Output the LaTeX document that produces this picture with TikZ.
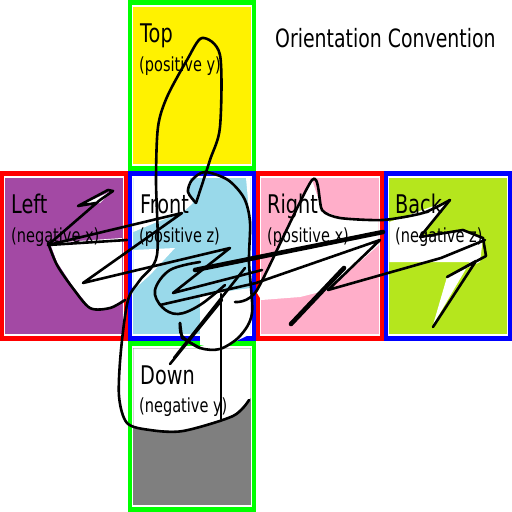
\documentclass[tikz,border=0pt]{standalone}
\usepackage{fontspec}
\setmainfont{DejaVu Sans}[FakeStretch=0.75]
\definecolor{bordgreen}{HTML}{00FF00}
\definecolor{bordred}{HTML}{FF0000}
\definecolor{bordblue}{HTML}{0000FF}
\definecolor{topyellow}{HTML}{FFF200}
\definecolor{leftpurple}{HTML}{A349A4}
\definecolor{frontblue}{HTML}{99D9EA}
\definecolor{rightpink}{HTML}{FFAEC9}
\definecolor{backlime}{HTML}{B5E61D}
\definecolor{downgray}{HTML}{7F7F7F}

% one face of the net: x, y, border colour, fill colour
\newcommand{\cubeface}[4]{%
    \fill[#3] (#1,#2) rectangle ++(128,170.67);
    \fill[white] (#1+4,#2+5) rectangle (#1+124,#2+165.67);
    \fill[#4] (#1+5.3,#2+7) rectangle (#1+122.7,#2+163.67);
}

\begin{document}
\begin{tikzpicture}[x=1pt,y=-1pt,line join=round,line cap=round]
    \tikzset{
        facename/.style={anchor=base west,inner sep=0pt,
            font=\fontsize{25.7}{30}\selectfont},
        facesub/.style={anchor=base west,inner sep=0pt,
            font=\fontsize{19.4}{22}\selectfont},
        scrib/.style={line width=2.6pt,black},
        scribthick/.style={line width=4.6pt,black},
        blank/.style={fill=white,draw=none}
    }
    \useasboundingbox (0,0) rectangle (512,512);

    \cubeface{128}{0}{bordgreen}{topyellow}
    \cubeface{0}{170.67}{bordred}{leftpurple}
    \cubeface{128}{170.67}{bordblue}{frontblue}
    \cubeface{256}{170.67}{bordred}{rightpink}
    \cubeface{384}{170.67}{bordblue}{backlime}
    \cubeface{128}{341.33}{bordgreen}{downgray}

    % white patches left by the scribble
    \path[blank] (50,243) -- (122,238) -- (122,300) -- (110,309) -- (90,308)
        -- (72,285) -- (57,262) -- cycle;
    \path[blank] (78,206) -- (112,191) -- (100,203) -- cycle;
    \path[blank] (133.3,178) -- (190,178) -- (188,192) -- (193,203) -- (182,213)
        -- (157,222) -- (133.3,232) -- cycle;
    \path[blank] (246,178) -- (250.7,178) -- (250.7,330) -- (249,260) -- (250,222) -- cycle;
    \path[blank] (200,295) -- (250.7,288) -- (250.7,334) -- (220,349) -- (200,345) -- cycle;
    \path[blank] (133.3,250) -- (175,248) -- (150,275) -- (133.3,290) -- cycle;
    \path[blank] (257,293) -- (312,180) -- (322,210) -- (340,218) -- (378.7,220)
        -- (378.7,245) -- (328,290) -- (300,297) -- (261.3,300) -- cycle;
    \path[blank] (389.3,222) -- (450,200) -- (420,237) -- (463,230) -- (483,238)
        -- (480,262) -- (447,277) -- (433,325) -- (470,262) -- (441,262)
        -- (389.3,262) -- cycle;
    \path[blank] (133.3,348.3) -- (250.7,348.3) -- (250.7,398) -- (233,416)
        -- (183,431) -- (150,430) -- (133.3,427) -- cycle;

    % labels
    \node (title) at (275,47.5) [anchor=base west,inner sep=0pt,
        font=\fontsize{25.2}{30}\selectfont] {Orientation Convention};
    \node[facename] (topname) at (140,42) {Top};
    \node[facesub] (topsub) at (139,71) {(positive y)};
    \node[facename] (leftname) at (11,213) {Left};
    \node[facesub] (leftsub) at (11,242) {(negative x)};
    \node[facename] (frontname) at (140,213) {Front};
    \node[facesub] (frontsub) at (139,242) {(positive z)};
    \node[facename] (rightname) at (267,213) {Right};
    \node[facesub] (rightsub) at (267,242) {(positive x)};
    \node[facename] (backname) at (395,213) {Back};
    \node[facesub] (backsub) at (395,242) {(negative z)};
    \node[facename] (downname) at (140,384) {Down};
    \node[facesub] (downsub) at (139,412) {(negative y)};

    % the scribble
    \draw[scrib] plot[smooth,tension=0.5] coordinates {(196,203) (210,160)
        (220,127) (220,55) (202,38) (187,60) (167,97) (158,127) (156,180)
        (157,255) (140,280) (128,300) (121,350) (119,396) (127,423) (150,430)
        (183,431) (233,416) (249,400)};
    \draw[scrib] plot[smooth,tension=0.5] coordinates {(196,203) (188,192)
        (192,180) (205,172) (228,180) (244,198) (250,222) (249,262) (252,313)
        (240,336) (220,349) (200,348) (182,336) (180,323)};
    \draw[scrib] (48,245) -- (100,200) -- (113,191) -- (108,190) -- (78,206)
        -- (96,203);
    \draw[scrib] plot[smooth,tension=0.5] coordinates {(48,243) (57,265)
        (72,287) (90,308) (110,308) (125,300)};
    \draw[scrib] (48,245) -- (127,240);
    \draw[scrib] (48,245) -- (182,213) -- (83,283) -- (230,248) -- (173,293)
        -- (262,270);
    \draw[scrib] plot[smooth,tension=0.6] coordinates {(200,262) (170,270)
        (155,290) (162,307) (178,314) (200,305) (225,285)};
    \draw[scrib] plot[smooth,tension=0.4] coordinates {(235,302) (257,290)
        (312,180) (322,210) (340,218) (383,220) (423,213) (450,200)};
    \draw[scrib] (450,200) -- (420,237) -- (463,230) -- (483,238)
        -- (486,256) -- (447,277) -- (476,261) -- (433,327);
    \draw[scrib] (160,305) -- (256,283) -- (380,240) -- (328,290) -- (441,258)
        -- (485,240);
    \draw[scribthick] (195,270) -- (383,232);
    \draw[scribthick] (291,324) -- (344,268);
    \draw[scrib] (170,364) -- (222,300) -- (174,358) -- (245,268);
    \draw[scrib] (221,294) -- (221,419);
    \draw[scrib] (180,323) -- (182,338) -- (200,348);
\end{tikzpicture}
\end{document}
